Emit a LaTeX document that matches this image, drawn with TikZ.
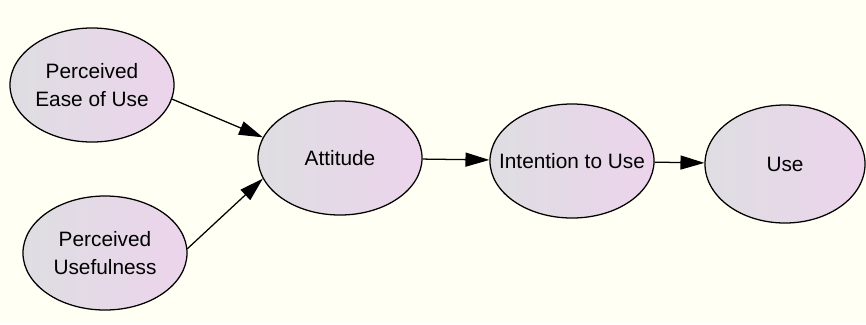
\documentclass[tikz,border=0pt]{standalone}
\usepackage{fontspec}
\setmainfont{Liberation Sans}
\usepackage{tikz}
\usetikzlibrary{arrows.meta,shapes.geometric}
\usepackage{xcolor}
\definecolor{paper}{RGB}{255,255,243}
\definecolor{leftgray}{RGB}{222,222,226}
\definecolor{rightpink}{RGB}{236,212,236}

\begin{document}
\begin{tikzpicture}[x=0.025cm,y=-0.025cm,
        construct/.style={ellipse,draw=black,line width=0.9pt,
            left color=leftgray,right color=rightpink,
            minimum width=4.1cm,minimum height=2.85cm,inner sep=0pt,
            align=center,font=\fontsize{14.8}{20}\selectfont},
        path/.style={-{Triangle[length=17pt,width=10pt]},line width=0.9pt}
    ]
    
    % --- Canvas ---
    \fill[paper] (0,0) rectangle (866,324);
    \useasboundingbox (0,0) rectangle (866,324);
    
    % --- Constructs ---
    \node[construct] (peu) at (92,85) {Perceived\\Ease of Use};
    \node[construct] (pu) at (105,253) {Perceived\\Usefulness};
    \node[construct] (att) at (340,158) {Attitude};
    \node[construct,inner xsep=-0.38cm] (int) at (572,161) {Intention to Use};
    \node[construct,minimum width=4.0cm,minimum height=2.95cm] (use) at (785,164) {Use};
    
    % --- Paths ---
    \draw[path] (peu.-10) -- (att.165);
    \draw[path] (pu.3) -- (att.-165);
    \draw[path] (att) -- (int);
    \draw[path] (int) -- (use);
    
\end{tikzpicture}
\end{document}
